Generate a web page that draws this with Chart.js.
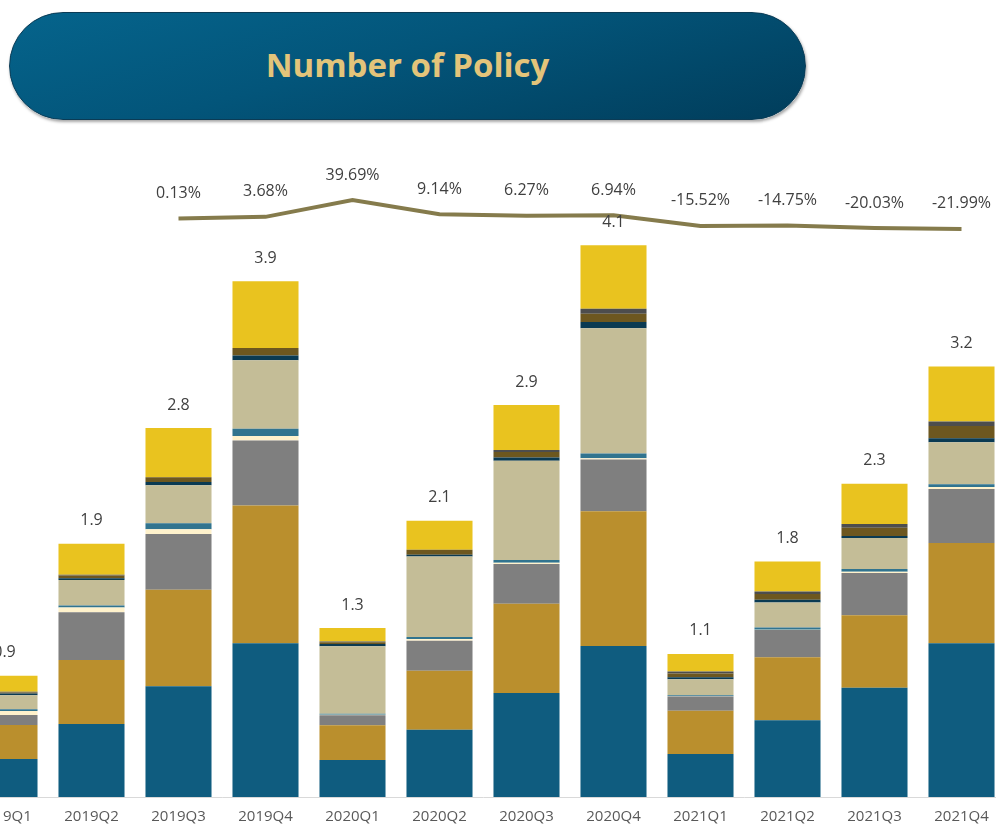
<!DOCTYPE html>
<html>
<head>
<meta charset="utf-8">
<script src="https://cdn.jsdelivr.net/npm/chart.js"></script>
<style>
  html, body { margin: 0; padding: 0; background: #fff; overflow: hidden; }
  body { width: 996px; height: 826px; position: relative; }
  .banner {
    position: absolute; left: 9px; top: 12px; width: 795px; height: 106px;
    border-radius: 54px;
    background: linear-gradient(165deg, #05648c 0%, #03557a 45%, #013d5b 100%);
    border: 1px solid #0b3b55;
    box-shadow: 1px 2px 3px rgba(0,0,0,0.35);
    display: flex; align-items: center; justify-content: center;
  }
  .banner span {
    font-family: 'Open Sans', sans-serif; font-weight: 700; font-size: 33px;
    color: #e3c47a; margin-top: -4px;
  }
  .wrap { position: absolute; left: -39.5px; top: 130px; width: 1044px; height: 696px; }
</style>
</head>
<body>
<div class="banner"><span>Number of Policy</span></div>
<div class="wrap"><canvas id="policyChart"></canvas></div>
<script>
const quarters = ['2019Q1','2019Q2','2019Q3','2019Q4','2020Q1','2020Q2','2020Q3','2020Q4','2021Q1','2021Q2','2021Q3','2021Q4'];

// stacked segments, bottom to top (millions)
const seg1 = [0.281, 0.541, 0.820, 1.139, 0.274, 0.499, 0.771, 1.118, 0.319, 0.568, 0.810, 1.139];
const seg2 = [0.252, 0.474, 0.716, 1.021, 0.257, 0.437, 0.661, 0.998, 0.319, 0.467, 0.536, 0.743];
const seg3 = [0.074, 0.353, 0.412, 0.480, 0.074, 0.222, 0.294, 0.384, 0.106, 0.202, 0.313, 0.400];
const seg4 = [0.030, 0.035, 0.035, 0.035, 0.005, 0.013, 0.010, 0.010, 0.002, 0.002, 0.010, 0.015];
const seg5 = [0.013, 0.015, 0.045, 0.053, 0.007, 0.015, 0.019, 0.034, 0.007, 0.017, 0.020, 0.020];
const seg6 = [0.104, 0.190, 0.281, 0.507, 0.499, 0.595, 0.736, 0.929, 0.119, 0.185, 0.230, 0.311];
const seg7 = [0.013, 0.013, 0.025, 0.035, 0.017, 0.013, 0.024, 0.045, 0.015, 0.020, 0.015, 0.030];
const seg8 = [0.007, 0.020, 0.035, 0.056, 0.013, 0.037, 0.040, 0.061, 0.027, 0.042, 0.061, 0.091];
const seg9 = [0.005, 0.005, 0, 0, 0.005, 0, 0.016, 0.037, 0.015, 0.020, 0.027, 0.032];
const seg10 = [0.119, 0.230, 0.364, 0.495, 0.101, 0.215, 0.333, 0.471, 0.131, 0.222, 0.299, 0.407];

const totals = [0.9, 1.9, 2.8, 3.9, 1.3, 2.1, 2.9, 4.1, 1.1, 1.8, 2.3, 3.2];
const growth = [null, null, 0.13, 3.68, 39.69, 9.14, 6.27, 6.94, -15.52, -14.75, -20.03, -21.99];

const segData = [seg1, seg2, seg3, seg4, seg5, seg6, seg7, seg8, seg9, seg10];
const segColors = ['#0f5c7f', '#ba8f2d', '#7f7f7f', '#fff2cc', '#31748f', '#c4bd97', '#0a3a52', '#6d571f', '#4d4d4d', '#e9c31f'];

const labelFont = "16px 'Open Sans', sans-serif";
const textColor = '#404040';

const labelPlugin = {
  id: 'labels',
  afterDatasetsDraw(chart) {
    const ctx = chart.ctx;
    ctx.save();
    ctx.font = labelFont;
    ctx.fillStyle = textColor;
    ctx.textAlign = 'center';
    ctx.textBaseline = 'middle';
    // totals above bars
    const topMeta = chart.getDatasetMeta(segData.length - 1);
    topMeta.data.forEach((bar, i) => {
      ctx.fillText(totals[i].toFixed(1), bar.x, bar.y - 23);
    });
    // growth labels above the line
    const lineMeta = chart.getDatasetMeta(segData.length);
    lineMeta.data.forEach((pt, i) => {
      if (growth[i] === null) return;
      ctx.fillText(growth[i].toFixed(2) + '%', pt.x, pt.y - 25);
    });
    ctx.restore();
  }
};

const datasets = segData.map((d, i) => ({
  type: 'bar',
  data: d,
  backgroundColor: segColors[i],
  borderWidth: 0,
  stack: 'policy',
  yAxisID: 'y',
  order: 1,
  barPercentage: 0.759,
  categoryPercentage: 1
}));

datasets.push({
  type: 'line',
  data: growth,
  borderColor: '#857b4c',
  borderWidth: 4,
  pointRadius: 0,
  tension: 0,
  fill: false,
  yAxisID: 'y2',
  order: 0
});

new Chart(document.getElementById('policyChart'), {
  data: { labels: quarters, datasets: datasets },
  options: {
    responsive: true,
    maintainAspectRatio: false,
    animation: false,
    layout: { padding: 0 },
    plugins: { legend: { display: false }, tooltip: { enabled: false } },
    scales: {
      x: {
        stacked: true,
        offset: true,
        grid: { display: false, drawTicks: false },
        border: { display: true, color: '#d9d9d9', width: 1 },
        ticks: { color: '#595959', font: { family: "'Open Sans', sans-serif", size: 15 }, padding: 11, maxRotation: 0, autoSkip: false },
        afterFit(scale) { scale.height = 29; }
      },
      y: {
        stacked: true,
        display: false,
        min: 0,
        max: 667 / 135
      },
      y2: {
        display: false,
        min: -1230.6,
        max: 188.5
      }
    }
  },
  plugins: [labelPlugin]
});
</script>
</body>
</html>
